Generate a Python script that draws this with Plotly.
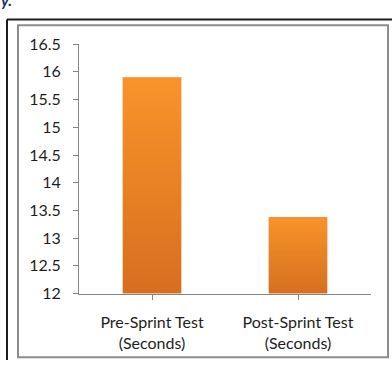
import base64
import struct
import zlib

import plotly.graph_objects as go

# Sprint test times (seconds)
categories = ["Pre-Sprint Test<br>(Seconds)", "Post-Sprint Test<br>(Seconds)"]
times = [15.9, 13.38]
y_ticks = [12, 12.5, 13, 13.5, 14, 14.5, 15, 15.5, 16, 16.5]

W, H = 392, 369
AXIS_MIN, AXIS_MAX = 12, 16.5
BAR_WIDTH = 0.4


def gradient_png(top, bottom, rows=64):
    """Build a 1-pixel-wide vertical gradient PNG as a data URI."""
    raw = b""
    for i in range(rows):
        t = i / (rows - 1)
        px = bytes(round(a + (b - a) * t) for a, b in zip(top, bottom))
        raw += b"\x00" + px
    def chunk(tag, data):
        return (struct.pack(">I", len(data)) + tag + data
                + struct.pack(">I", zlib.crc32(tag + data) & 0xFFFFFFFF))
    png = (b"\x89PNG\r\n\x1a\n"
           + chunk(b"IHDR", struct.pack(">IIBBBBB", 1, rows, 8, 2, 0, 0, 0))
           + chunk(b"IDAT", zlib.compress(raw))
           + chunk(b"IEND", b""))
    return "data:image/png;base64," + base64.b64encode(png).decode()


def px_x(x):
    return x / W


def px_y(y):
    return 1 - y / H


font = dict(family="Lato, 'Open Sans', sans-serif", size=16, color="#1e1e1e")

fig = go.Figure(
    go.Bar(
        x=list(range(len(categories))),
        y=[v - AXIS_MIN for v in times],
        base=AXIS_MIN,
        width=BAR_WIDTH,
        marker=dict(color="#EE8425", line=dict(width=0)),
        hoverinfo="skip",
    )
)

# vertical orange gradient laid over each bar
grad = gradient_png((248, 148, 42), (214, 112, 32))
for i, v in enumerate(times):
    fig.add_layout_image(
        source=grad, xref="x", yref="y",
        x=i - BAR_WIDTH / 2, y=v, sizex=BAR_WIDTH, sizey=v - AXIS_MIN,
        xanchor="left", yanchor="top", sizing="stretch", layer="above",
    )

# outer dark frame (left and top edges) and inner grey chart border
fig.add_shape(type="line", xref="paper", yref="paper",
              x0=px_x(7), y0=px_y(369), x1=px_x(7), y1=px_y(10),
              line=dict(color="#1c1c1c", width=2))
fig.add_shape(type="line", xref="paper", yref="paper",
              x0=px_x(7), y0=px_y(10), x1=px_x(392), y1=px_y(10),
              line=dict(color="#1c1c1c", width=2))
fig.add_shape(type="rect", xref="paper", yref="paper",
              x0=px_x(18), y0=px_y(366), x1=px_x(388), y1=px_y(16),
              line=dict(color="#8c8c8c", width=2))

# tail of the caption text above the chart
fig.add_annotation(text="<b><i>y.</i></b>", xref="paper", yref="paper",
                   x=px_x(-1), y=px_y(1), xanchor="left", yanchor="bottom",
                   showarrow=False,
                   font=dict(family="Lato, sans-serif", size=16, color="#1f2a66"))

fig.update_layout(
    width=W, height=H,
    margin=dict(l=0, r=0, t=0, b=0),
    paper_bgcolor="white", plot_bgcolor="white",
    showlegend=False,
    font=font,
    xaxis=dict(
        domain=[px_x(79), px_x(371)],
        range=[-0.5, 1.5],
        tickmode="array",
        tickvals=list(range(len(categories))),
        ticktext=categories,
        showline=True, linecolor="#868686", linewidth=1,
        ticks="outside", ticklen=5, tickcolor="#868686",
        tickson="boundaries",
        ticklabelstandoff=9,
        showgrid=False, zeroline=False,
        fixedrange=True,
    ),
    yaxis=dict(
        domain=[px_y(299), px_y(36)],
        range=[AXIS_MIN, AXIS_MAX],
        tickmode="array",
        tickvals=y_ticks,
        ticktext=[f"{t:g}" for t in y_ticks],
        showline=True, linecolor="#868686", linewidth=1,
        ticks="outside", ticklen=5, tickcolor="#868686",
        ticklabelstandoff=9,
        showgrid=False, zeroline=False,
        fixedrange=True,
    ),
)

fig.write_html("out.html", config={"displayModeBar": False})
